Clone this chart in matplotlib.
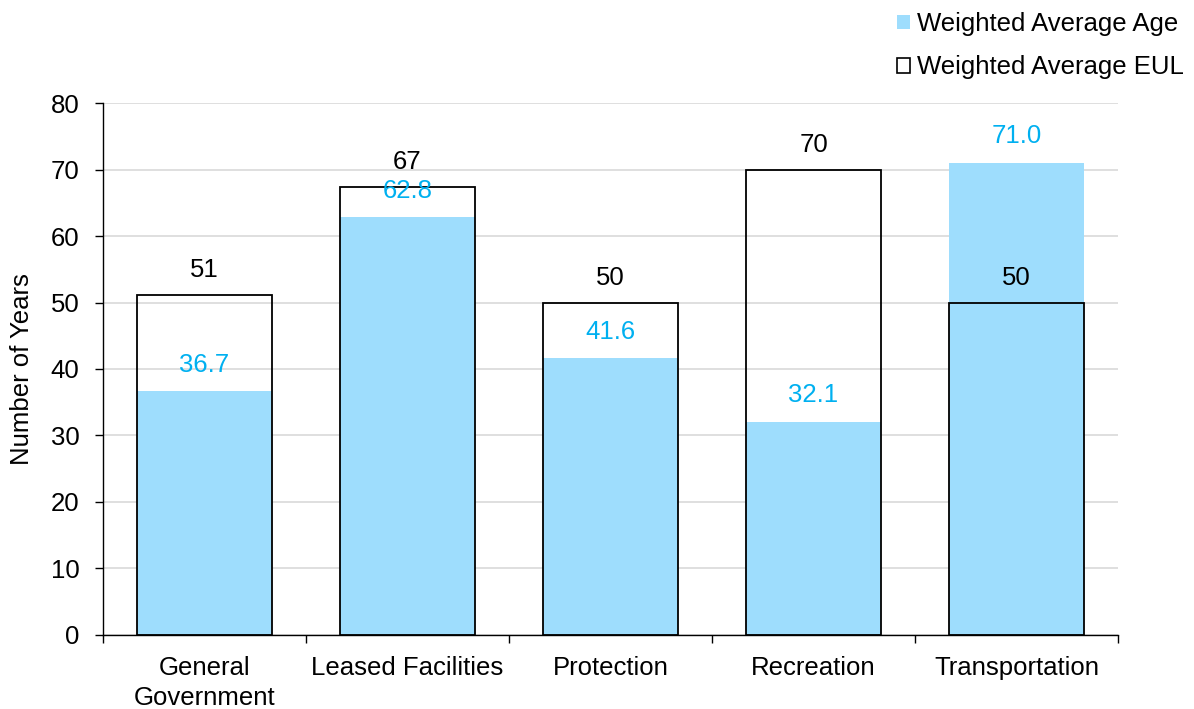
import matplotlib
matplotlib.use("Agg")
import matplotlib.pyplot as plt
from matplotlib.patches import Patch
import numpy as np

plt.rcParams['font.family'] = ['Liberation Sans', 'DejaVu Sans']

categories = ["General\nGovernment", "Leased Facilities", "Protection", "Recreation", "Transportation"]
avg_age = [36.7, 62.8, 41.6, 32.1, 71.0]
avg_eul = [51.1, 67.4, 50.0, 70.0, 50.0]
y_ticks = [0, 10, 20, 30, 40, 50, 60, 70, 80]

AGE_COLOR = "#9EDDFD"
AGE_TEXT = "#00B0F0"
FS = 18.5

fig = plt.figure(figsize=(11.94, 7.09), dpi=100)
ax = fig.add_axes([0.0863, 0.1044, 0.8501, 0.7503])

x = np.arange(len(categories))
width = 0.665

ax.bar(x, avg_age, width=width, color=AGE_COLOR, edgecolor="none", zorder=2)
ax.bar(x, avg_eul, width=width, facecolor="none", edgecolor="black", linewidth=1.3, zorder=3)

for xi, v in zip(x, avg_eul):
    ax.annotate(f"{v:.0f}", (xi, v), xytext=(0, 18), textcoords="offset points",
                ha="center", va="center", fontsize=FS, color="black", zorder=4)
for xi, v in zip(x, avg_age):
    ax.annotate(f"{v:.1f}", (xi, v), xytext=(0, 19), textcoords="offset points",
                ha="center", va="center", fontsize=FS, color=AGE_TEXT, zorder=4)

ax.set_xlim(-0.5, len(categories) - 0.5)
ax.set_ylim(0, 80)
ax.set_yticks(y_ticks)
ax.tick_params(axis="y", labelsize=FS, length=6, width=1, direction="out", pad=11)
ax.set_xticks(x)
ax.set_xticklabels(categories, fontsize=FS, linespacing=1.3)
ax.tick_params(axis="x", length=0, pad=15)
ax.set_xticks(np.arange(-0.5, len(categories)), minor=True)
ax.tick_params(axis="x", which="minor", length=6, width=1, direction="out")

ax.grid(axis="y", color="#D9D9D9", linewidth=1.2, zorder=0)
ax.set_axisbelow(True)
for s in ["top", "right"]:
    ax.spines[s].set_visible(False)
for s in ["left", "bottom"]:
    ax.spines[s].set_color("black")
    ax.spines[s].set_linewidth(1)

ax.set_ylabel("Number of Years", fontsize=FS, labelpad=12)

handles = [Patch(facecolor=AGE_COLOR, edgecolor="none", label="Weighted Average Age"),
           Patch(facecolor="white", edgecolor="black", linewidth=1.2, label="Weighted Average EUL")]
fig.legend(handles=handles, loc="upper right", bbox_to_anchor=(1.009, 1.012), frameon=False,
           fontsize=FS, handlelength=0.5, handleheight=0.5, handletextpad=0.3,
           labelspacing=0.75, borderpad=0.3)

fig.savefig("out.png", dpi=100)
